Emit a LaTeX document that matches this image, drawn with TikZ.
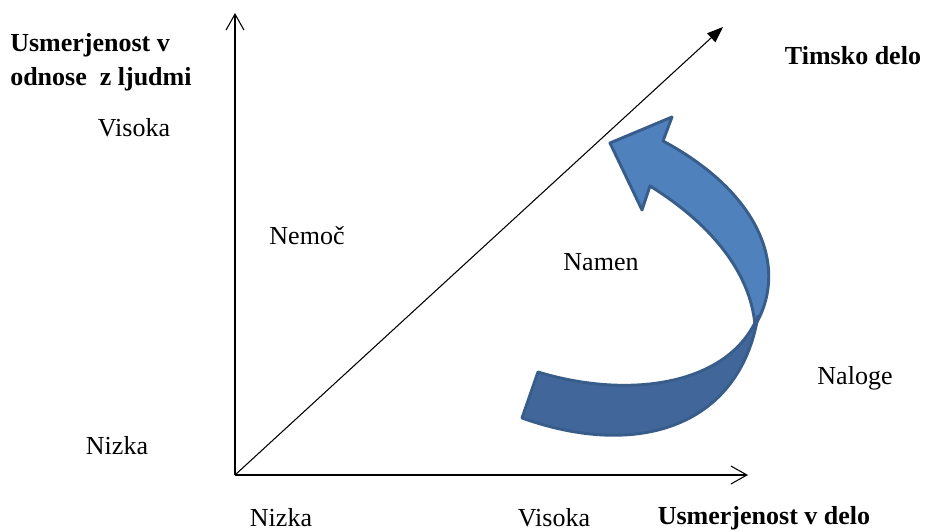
\documentclass[tikz,border=0pt]{standalone}
\usepackage{fontspec}
\setmainfont{Liberation Serif}
\usetikzlibrary{arrows.meta}
\definecolor{bandlight}{HTML}{4F81BD}
\definecolor{banddark}{HTML}{41679A}
\definecolor{bandline}{HTML}{385D8A}
\begin{document}
\begin{tikzpicture}[x=0.75pt,y=-0.75pt,font=\fontsize{19.5}{25.5}\selectfont,
  axis/.style={line width=0.8pt,-{Straight Barb[length=12pt,width=13.5pt]}},
  lbl/.style={inner sep=0pt},
  band/.style={draw=bandline,line width=2.2pt,line join=round}]
  \useasboundingbox (0,0) rectangle (925,531);
  \coordinate (O) at (235,475);
  \coordinate (ytop) at (235,13);
  \coordinate (xend) at (748,475);
  \coordinate (dend) at (723,27);
  \draw[axis] (O) -- (ytop);
  \draw[axis] (O) -- (xend);
  \draw[line width=0.8pt,-{Triangle[length=12pt,width=9pt]}] (O) -- (dend);
  % curved arrow
  \fill[bandlight] (757,322) .. controls (788,265) and (758,192) .. (663,141)
    -- (672,117) -- (610,143) -- (642,210) -- (650,186)
    .. controls (708,222) and (750,270) .. (755,325) -- cycle;
  \draw[band] (757,322) .. controls (788,265) and (758,192) .. (663,141)
    -- (672,117) -- (610,143) -- (642,210) -- (650,186)
    .. controls (708,222) and (750,270) .. (755,325);
  \draw[band,fill=banddark] (538,372) .. controls (630,400) and (730,385) .. (758,316)
    .. controls (740,425) and (640,460) .. (522,418) -- cycle;
  % labels
  \node[lbl,anchor=west,align=left,font=\fontsize{19.5}{25.5}\selectfont\bfseries] (ylbl) at (10,62) {Usmerjenost v\\odnose~ z ljudmi};
  \node[lbl] (yhigh) at (134,128) {Visoka};
  \node[lbl] (ylow) at (117,446) {Nizka};
  \node[lbl] (nemoc) at (307,236) {Nemoč};
  \node[lbl] (namen) at (601,262) {Namen};
  \node[lbl] (naloge) at (855,378) {Naloge};
  \node[lbl,font=\fontsize{19.5}{25.5}\selectfont\bfseries] (timsko) at (853,56) {Timsko delo};
  \node[lbl] (xlow) at (281,518) {Nizka};
  \node[lbl] (xhigh) at (554,518) {Visoka};
  \node[lbl,font=\fontsize{19.5}{25.5}\selectfont\bfseries] (xlbl) at (764,518) {Usmerjenost v delo};
\end{tikzpicture}
\end{document}
